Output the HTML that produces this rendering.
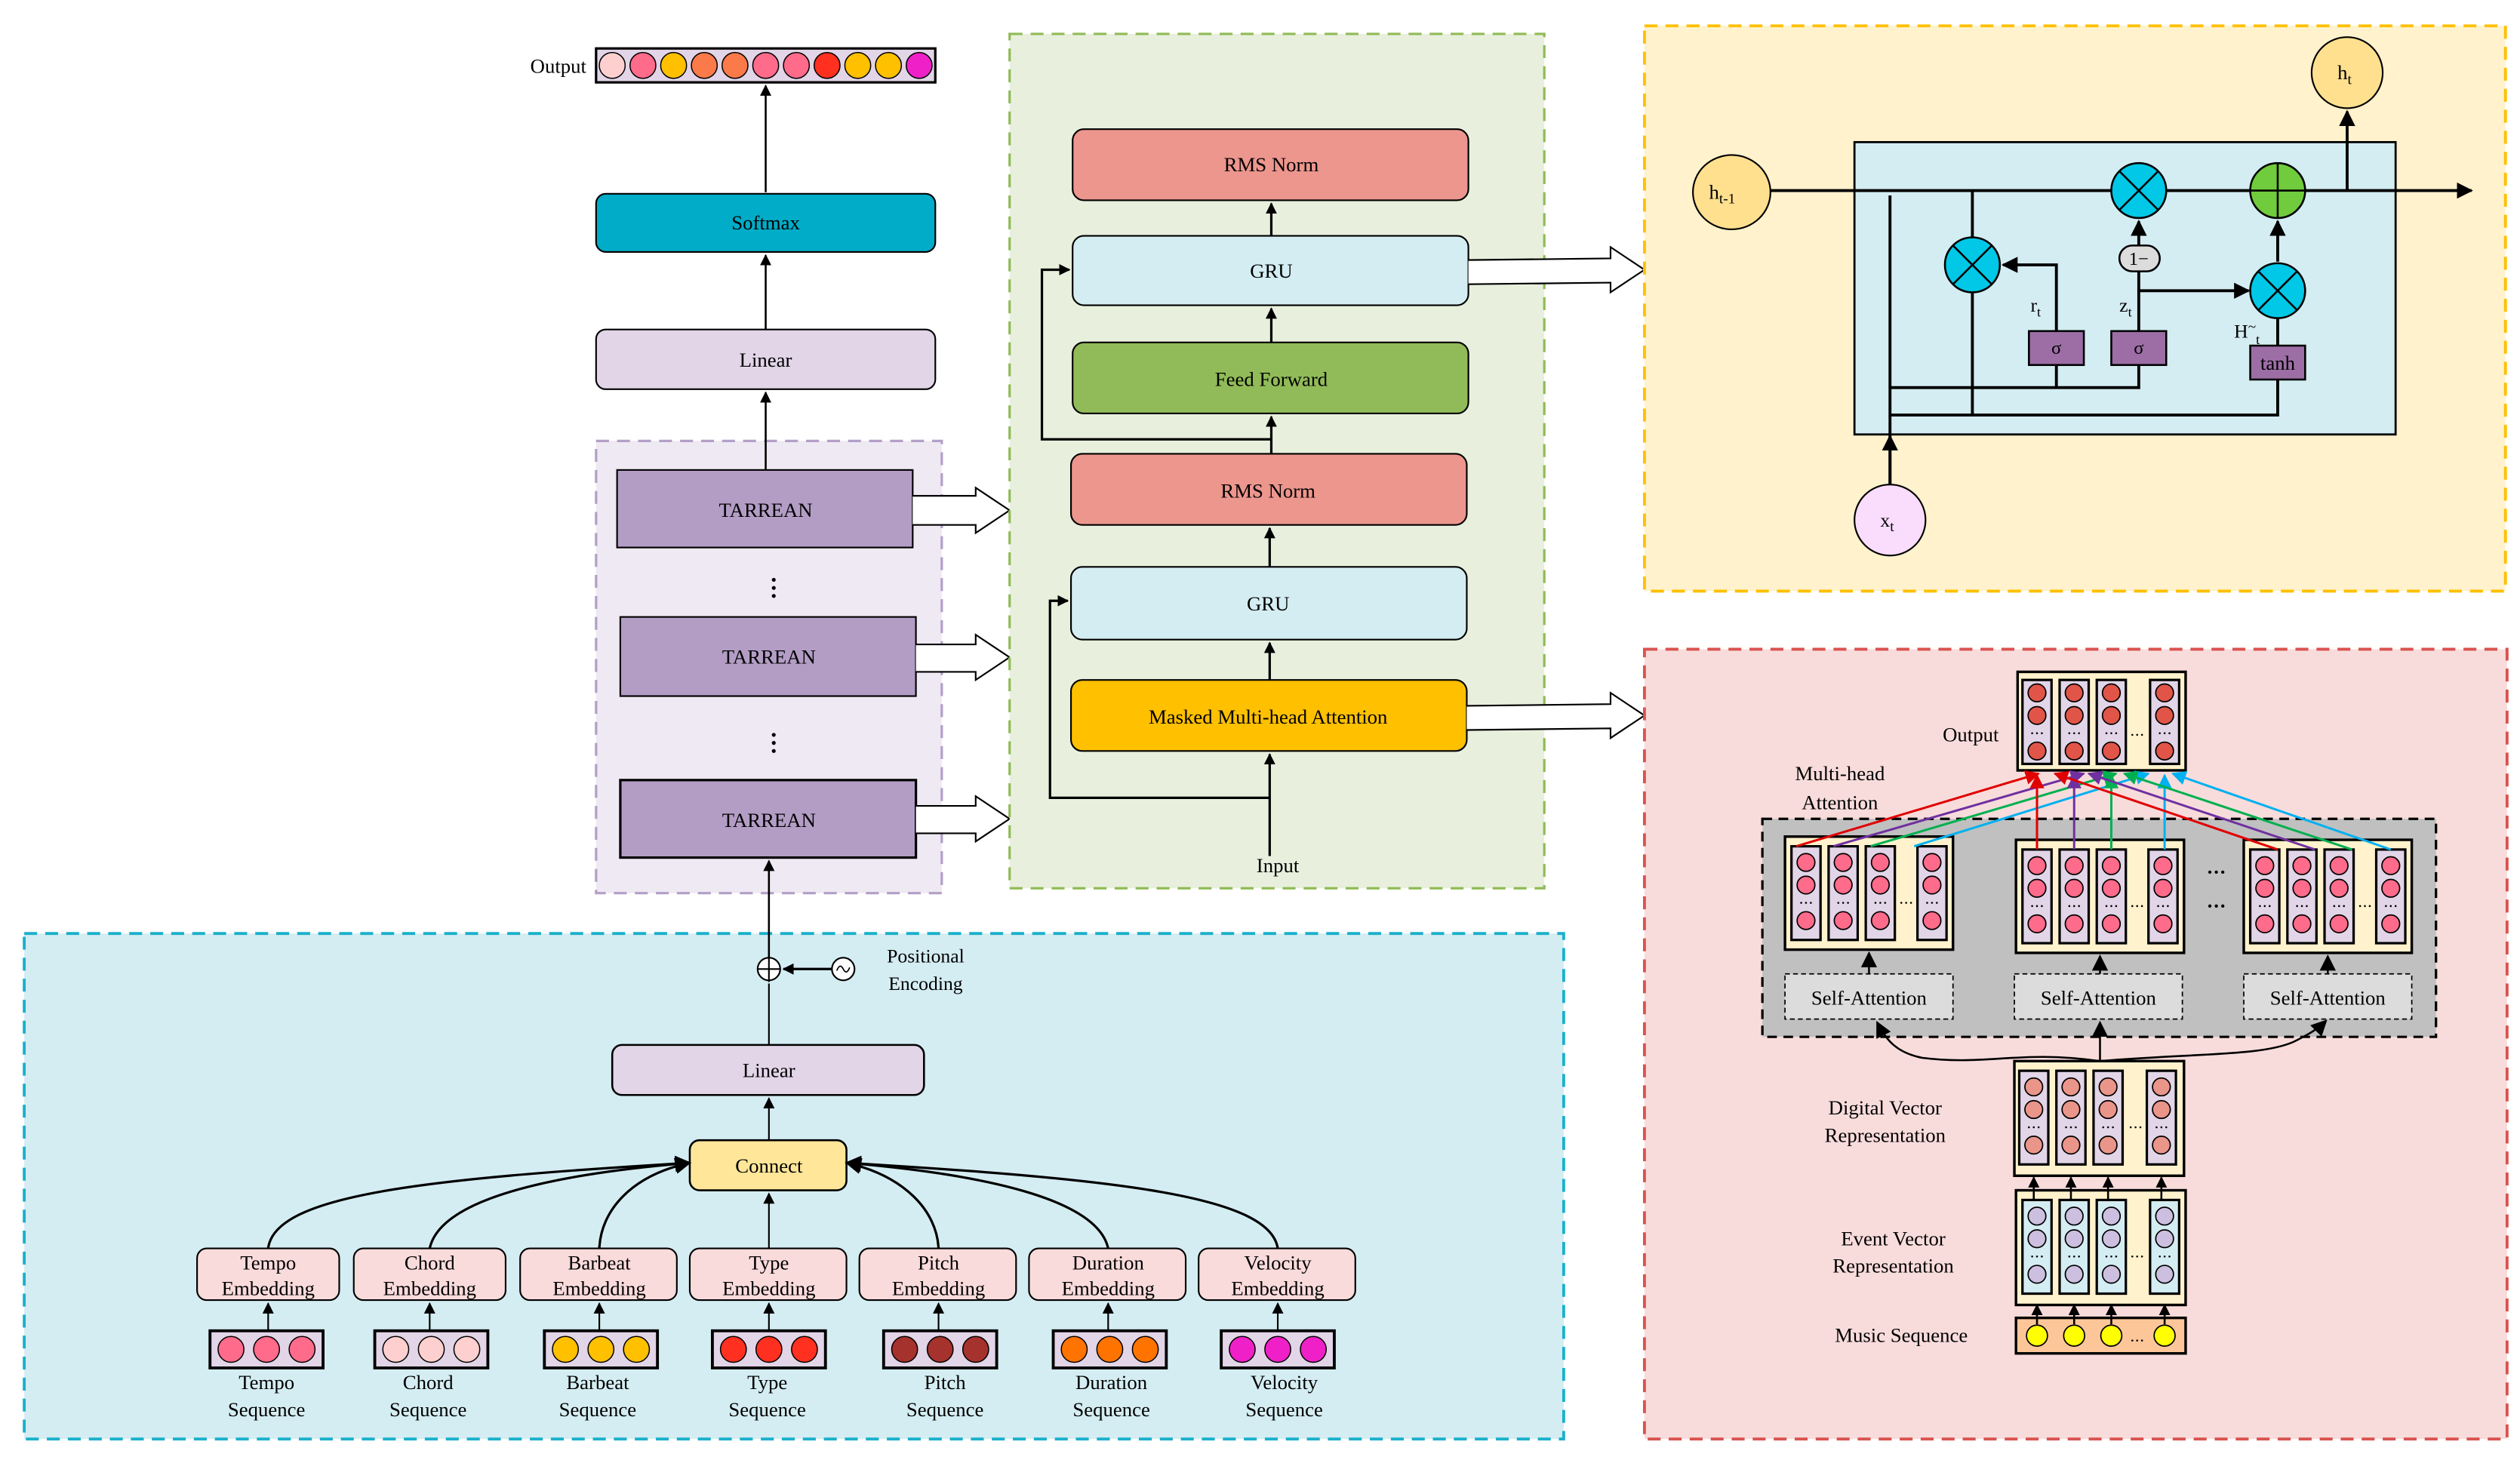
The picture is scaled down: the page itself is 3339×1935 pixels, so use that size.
<!DOCTYPE html>
<html><head><meta charset="utf-8"><style>html,body{margin:0;padding:0;background:#fff}svg{display:block}text{font-family:"Liberation Serif",serif;fill:#000}</style></head><body>
<svg width="3339" height="1935" viewBox="0 0 1560 904" preserveAspectRatio="none" xmlns="http://www.w3.org/2000/svg">
<defs>
<marker id="ar" viewBox="0 0 10 10" refX="9" refY="5" markerWidth="7" markerHeight="7" markerUnits="userSpaceOnUse" orient="auto"><path d="M0,0L10,5L0,10z" fill="#000"/></marker>
<marker id="arB" viewBox="0 0 10 10" refX="9" refY="5" markerWidth="10" markerHeight="10" markerUnits="userSpaceOnUse" orient="auto"><path d="M0,0L10,5L0,10z" fill="#000"/></marker>
<marker id="mr" viewBox="0 0 10 10" refX="9" refY="5" markerWidth="9" markerHeight="9" markerUnits="userSpaceOnUse" orient="auto"><path d="M0,0L10,5L0,10z" fill="#e00000"/></marker>
<marker id="mp" viewBox="0 0 10 10" refX="9" refY="5" markerWidth="9" markerHeight="9" markerUnits="userSpaceOnUse" orient="auto"><path d="M0,0L10,5L0,10z" fill="#7030a0"/></marker>
<marker id="mg" viewBox="0 0 10 10" refX="9" refY="5" markerWidth="9" markerHeight="9" markerUnits="userSpaceOnUse" orient="auto"><path d="M0,0L10,5L0,10z" fill="#00b050"/></marker>
<marker id="mb" viewBox="0 0 10 10" refX="9" refY="5" markerWidth="9" markerHeight="9" markerUnits="userSpaceOnUse" orient="auto"><path d="M0,0L10,5L0,10z" fill="#00b0f0"/></marker>
<g id="dots"><circle cx="-3" cy="0" r="0.6"/><circle cx="0" cy="0" r="0.6"/><circle cx="3" cy="0" r="0.6"/></g>
<g id="colP"><rect x="-9" y="0" width="18" height="58" fill="#e1d5e7" stroke="#000" stroke-width="1.5"/><circle cy="10" r="5.5" fill="#ff6b8a" stroke="#000" stroke-width="0.8"/><circle cy="24" r="5.5" fill="#ff6b8a" stroke="#000" stroke-width="0.8"/><use href="#dots" y="35"/><circle cy="46" r="5.5" fill="#ff6b8a" stroke="#000" stroke-width="0.8"/></g>
<g id="colR"><rect x="-9" y="0" width="18" height="52" fill="#e1d5e7" stroke="#000" stroke-width="1.5"/><circle cy="8" r="5.5" fill="#e05548" stroke="#000" stroke-width="0.8"/><circle cy="22" r="5.5" fill="#e05548" stroke="#000" stroke-width="0.8"/><use href="#dots" y="33"/><circle cy="44" r="5.5" fill="#e05548" stroke="#000" stroke-width="0.8"/></g>
<g id="colD"><rect x="-9" y="0" width="18" height="58" fill="#e1d5e7" stroke="#000" stroke-width="1.5"/><circle cy="10" r="5.5" fill="#ea958a" stroke="#000" stroke-width="0.8"/><circle cy="24" r="5.5" fill="#ea958a" stroke="#000" stroke-width="0.8"/><use href="#dots" y="35"/><circle cy="46" r="5.5" fill="#ea958a" stroke="#000" stroke-width="0.8"/></g>
<g id="colE"><rect x="-9" y="0" width="18" height="58" fill="#d4edf2" stroke="#000" stroke-width="1.5"/><circle cy="10" r="5.5" fill="#cdbfdf" stroke="#000" stroke-width="0.8"/><circle cy="24" r="5.5" fill="#cdbfdf" stroke="#000" stroke-width="0.8"/><use href="#dots" y="35"/><circle cy="46" r="5.5" fill="#cdbfdf" stroke="#000" stroke-width="0.8"/></g>
<g id="head"><rect x="0" y="0" width="104" height="70" fill="#fff2cc" stroke="#000" stroke-width="1.6"/><use href="#colP" x="13" y="6"/><use href="#colP" x="36" y="6"/><use href="#colP" x="59" y="6"/><use href="#colP" x="91" y="6"/><use href="#dots" x="75" y="41"/></g>
</defs>

<text x="363" y="45" font-size="12.5" text-anchor="end">Output</text>
<rect x="369" y="30" width="210" height="21" fill="#e1d5e7" stroke="#000" stroke-width="1.5"/>
<g stroke="#000" stroke-width="0.7">
<circle cx="379" cy="40.5" r="8" fill="#fdd0cf"/><circle cx="398" cy="40.5" r="8" fill="#ff6b8a"/><circle cx="417" cy="40.5" r="8" fill="#ffc000"/><circle cx="436" cy="40.5" r="8" fill="#fb7a4a"/><circle cx="455" cy="40.5" r="8" fill="#fb7a4a"/><circle cx="474" cy="40.5" r="8" fill="#ff6b8a"/><circle cx="493" cy="40.5" r="8" fill="#ff6b8a"/><circle cx="512" cy="40.5" r="8" fill="#ff3020"/><circle cx="531" cy="40.5" r="8" fill="#ffc000"/><circle cx="550" cy="40.5" r="8" fill="#ffc000"/><circle cx="569" cy="40.5" r="8" fill="#f020c8"/></g>
<line x1="474" y1="119" x2="474" y2="53" stroke="#000" stroke-width="1.2" marker-end="url(#ar)"/>
<rect x="369" y="120" width="210" height="36" rx="6" fill="#00acc8" stroke="#000" stroke-width="1"/>
<text x="474" y="142" font-size="12.5" text-anchor="middle">Softmax</text>
<line x1="474" y1="204" x2="474" y2="158" stroke="#000" stroke-width="1.2" marker-end="url(#ar)"/>
<rect x="369" y="204" width="210" height="37" rx="6" fill="#e1d5e7" stroke="#000" stroke-width="1"/>
<text x="474" y="227" font-size="12.5" text-anchor="middle">Linear</text>
<rect x="369" y="273" width="214" height="280" fill="#eee9f2" stroke="#b39fc8" stroke-width="1.5" stroke-dasharray="8,5"/>
<line x1="474" y1="291" x2="474" y2="243" stroke="#000" stroke-width="1.2" marker-end="url(#ar)"/>
<rect x="382" y="291" width="183" height="48" fill="#b39dc5" stroke="#000" stroke-width="1"/>
<text x="474" y="320" font-size="12.5" text-anchor="middle">TARREAN</text>
<rect x="384" y="382" width="183" height="49" fill="#b39dc5" stroke="#000" stroke-width="1"/>
<text x="476" y="411" font-size="12.5" text-anchor="middle">TARREAN</text>
<rect x="384" y="483" width="183" height="48" fill="#b39dc5" stroke="#000" stroke-width="1.5"/>
<text x="476" y="512" font-size="12.5" text-anchor="middle">TARREAN</text>
<g fill="#000"><circle cx="479" cy="359" r="1.2"/><circle cx="479" cy="364" r="1.2"/><circle cx="479" cy="369" r="1.2"/><circle cx="479" cy="455" r="1.2"/><circle cx="479" cy="460" r="1.2"/><circle cx="479" cy="465" r="1.2"/></g>
<g fill="#fff" stroke="#000" stroke-width="1">
<path d="M565,307L604,307L604,302L625,316L604,330L604,325L565,325"/>
<path d="M567,399L604,399L604,393L625,407L604,421L604,416L567,416"/>
<path d="M567,499L604,499L604,493L625,507L604,521L604,516L567,516"/>
</g>

<rect x="15" y="578" width="953" height="313" fill="#d4edf2" stroke="#1ab0cc" stroke-width="1.8" stroke-dasharray="8,5"/>
<line x1="476" y1="608" x2="476" y2="533" stroke="#000" stroke-width="1.2" marker-end="url(#ar)"/>
<circle cx="476" cy="600" r="7" fill="#fff" stroke="#000" stroke-width="1"/>
<line x1="469" y1="600" x2="483" y2="600" stroke="#000" stroke-width="1"/>
<line x1="476" y1="593" x2="476" y2="607" stroke="#000" stroke-width="1"/>
<circle cx="522" cy="600" r="7" fill="#fff" stroke="#000" stroke-width="1"/>
<path d="M518,601q2,-5 4,-1t4,-1" fill="none" stroke="#000" stroke-width="0.8"/>
<line x1="515" y1="600" x2="485" y2="600" stroke="#000" stroke-width="1.5" marker-end="url(#ar)"/>
<text x="573" y="596" font-size="12" text-anchor="middle">Positional</text>
<text x="573" y="613" font-size="12" text-anchor="middle">Encoding</text>
<line x1="476" y1="647" x2="476" y2="609" stroke="#000" stroke-width="1"/>
<rect x="379" y="647" width="193" height="31" rx="6" fill="#e1d5e7" stroke="#000" stroke-width="1.2"/>
<text x="476" y="667" font-size="12.5" text-anchor="middle">Linear</text>
<line x1="476" y1="706" x2="476" y2="680" stroke="#000" stroke-width="1" marker-end="url(#ar)"/>
<rect x="427" y="706" width="97" height="31" rx="6" fill="#ffe699" stroke="#000" stroke-width="1.2"/>
<text x="476" y="726" font-size="12.5" text-anchor="middle">Connect</text>
<g fill="none" stroke="#000" stroke-width="1.5">
<path d="M166,773C170,740 260,730 427,720" marker-end="url(#arB)"/>
<path d="M266,773C272,745 330,728 427,720" marker-end="url(#arB)"/>
<path d="M371,773C372,750 390,728 427,720" marker-end="url(#arB)"/>
<path d="M581,773C580,750 560,728 524,720" marker-end="url(#arB)"/>
<path d="M686,773C680,745 620,728 524,720" marker-end="url(#arB)"/>
<path d="M791,773C786,740 690,730 524,720" marker-end="url(#arB)"/>
</g>
<line x1="476" y1="773" x2="476" y2="739" stroke="#000" stroke-width="1" marker-end="url(#ar)"/>
<g font-size="12.5" text-anchor="middle">
<rect x="122" y="773" width="88" height="32" rx="6" fill="#fadbdb" stroke="#000"/><text x="166" y="786">Tempo</text><text x="166" y="802">Embedding</text>
<rect x="219" y="773" width="94" height="32" rx="6" fill="#fadbdb" stroke="#000"/><text x="266" y="786">Chord</text><text x="266" y="802">Embedding</text>
<rect x="322" y="773" width="97" height="32" rx="6" fill="#fadbdb" stroke="#000"/><text x="371" y="786">Barbeat</text><text x="371" y="802">Embedding</text>
<rect x="427" y="773" width="97" height="32" rx="6" fill="#fadbdb" stroke="#000"/><text x="476" y="786">Type</text><text x="476" y="802">Embedding</text>
<rect x="532" y="773" width="97" height="32" rx="6" fill="#fadbdb" stroke="#000"/><text x="581" y="786">Pitch</text><text x="581" y="802">Embedding</text>
<rect x="637" y="773" width="97" height="32" rx="6" fill="#fadbdb" stroke="#000"/><text x="686" y="786">Duration</text><text x="686" y="802">Embedding</text>
<rect x="742" y="773" width="97" height="32" rx="6" fill="#fadbdb" stroke="#000"/><text x="791" y="786">Velocity</text><text x="791" y="802">Embedding</text>
</g>
<g stroke="#000" stroke-width="1">
<line x1="166" y1="824" x2="166" y2="807" marker-end="url(#ar)"/><line x1="266" y1="824" x2="266" y2="807" marker-end="url(#ar)"/><line x1="371" y1="824" x2="371" y2="807" marker-end="url(#ar)"/><line x1="476" y1="824" x2="476" y2="807" marker-end="url(#ar)"/><line x1="581" y1="824" x2="581" y2="807" marker-end="url(#ar)"/><line x1="686" y1="824" x2="686" y2="807" marker-end="url(#ar)"/><line x1="791" y1="824" x2="791" y2="807" marker-end="url(#ar)"/>
</g>
<g stroke="#000" stroke-width="1.8" fill="#e1d5e7">
<rect x="130" y="824" width="70" height="23"/><rect x="232" y="824" width="70" height="23"/><rect x="337" y="824" width="70" height="23"/><rect x="441" y="824" width="70" height="23"/><rect x="547" y="824" width="70" height="23"/><rect x="652" y="824" width="70" height="23"/><rect x="756" y="824" width="70" height="23"/>
</g>
<g stroke="#000" stroke-width="0.7">
<circle cx="143" cy="835.5" r="8" fill="#ff6b8a"/><circle cx="165" cy="835.5" r="8" fill="#ff6b8a"/><circle cx="187" cy="835.5" r="8" fill="#ff6b8a"/>
<circle cx="245" cy="835.5" r="8" fill="#fdd0cf"/><circle cx="267" cy="835.5" r="8" fill="#fdd0cf"/><circle cx="289" cy="835.5" r="8" fill="#fdd0cf"/>
<circle cx="350" cy="835.5" r="8" fill="#ffc000"/><circle cx="372" cy="835.5" r="8" fill="#ffc000"/><circle cx="394" cy="835.5" r="8" fill="#ffc000"/>
<circle cx="454" cy="835.5" r="8" fill="#ff3020"/><circle cx="476" cy="835.5" r="8" fill="#ff3020"/><circle cx="498" cy="835.5" r="8" fill="#ff3020"/>
<circle cx="560" cy="835.5" r="8" fill="#a5322c"/><circle cx="582" cy="835.5" r="8" fill="#a5322c"/><circle cx="604" cy="835.5" r="8" fill="#a5322c"/>
<circle cx="665" cy="835.5" r="8" fill="#ff7300"/><circle cx="687" cy="835.5" r="8" fill="#ff7300"/><circle cx="709" cy="835.5" r="8" fill="#ff7300"/>
<circle cx="769" cy="835.5" r="8" fill="#f020c8"/><circle cx="791" cy="835.5" r="8" fill="#f020c8"/><circle cx="813" cy="835.5" r="8" fill="#f020c8"/>
</g>
<g font-size="12.5" text-anchor="middle">
<text x="165" y="860">Tempo</text><text x="165" y="877">Sequence</text>
<text x="265" y="860">Chord</text><text x="265" y="877">Sequence</text>
<text x="370" y="860">Barbeat</text><text x="370" y="877">Sequence</text>
<text x="475" y="860">Type</text><text x="475" y="877">Sequence</text>
<text x="585" y="860">Pitch</text><text x="585" y="877">Sequence</text>
<text x="688" y="860">Duration</text><text x="688" y="877">Sequence</text>
<text x="795" y="860">Velocity</text><text x="795" y="877">Sequence</text>
</g>

<rect x="625" y="21" width="331" height="529" fill="#e8f0dd" stroke="#90bb56" stroke-width="1.5" stroke-dasharray="8,5"/>
<g stroke="#000" stroke-width="1" font-size="12.5">
<rect x="664" y="80" width="245" height="44" rx="7" fill="#ec968e"/>
<rect x="664" y="146" width="245" height="43" rx="7" fill="#d4edf2"/>
<rect x="664" y="212" width="245" height="44" rx="7" fill="#91bb58"/>
<rect x="663" y="281" width="245" height="44" rx="7" fill="#ec968e"/>
<rect x="663" y="351" width="245" height="45" rx="7" fill="#d4edf2"/>
<rect x="663" y="421" width="245" height="44" rx="7" fill="#ffc000"/>
</g>
<g font-size="12.5" text-anchor="middle">
<text x="787" y="106">RMS Norm</text><text x="787" y="172">GRU</text><text x="787" y="239">Feed Forward</text><text x="785" y="308">RMS Norm</text><text x="785" y="378">GRU</text><text x="785" y="448">Masked Multi-head Attention</text><text x="791" y="540">Input</text>
</g>
<g stroke="#000" stroke-width="1.5" fill="none">
<line x1="787" y1="146" x2="787" y2="126" marker-end="url(#ar)"/>
<line x1="787" y1="212" x2="787" y2="191" marker-end="url(#ar)"/>
<line x1="787" y1="281" x2="787" y2="258" marker-end="url(#ar)"/>
<line x1="786" y1="351" x2="786" y2="327" marker-end="url(#ar)"/>
<line x1="786" y1="421" x2="786" y2="398" marker-end="url(#ar)"/>
<line x1="786" y1="530" x2="786" y2="467" marker-end="url(#ar)"/>
<path d="M787,272L645,272L645,167L662,167" marker-end="url(#ar)"/>
<path d="M786,494L650,494L650,372L661,372" marker-end="url(#ar)"/>
</g>
<g fill="#fff" stroke="#000" stroke-width="1">
<path d="M909,161L997,160L997,153L1018,167L997,181L997,175L909,176"/>
<path d="M908,437L997,436L997,429L1018,443L997,457L997,451L908,452"/>
</g>

<rect x="1018" y="16" width="533" height="350" fill="#fff2cc" stroke="#ffc000" stroke-width="1.8" stroke-dasharray="8,5"/>
<rect x="1148" y="88" width="335" height="181" fill="#d4edf2" stroke="#000" stroke-width="1.3"/>
<g stroke="#000" stroke-width="1.8" fill="none">
<line x1="1096" y1="118" x2="1530" y2="118" marker-end="url(#arB)"/>
<line x1="1170" y1="300" x2="1170" y2="121" />
<line x1="1221" y1="118" x2="1221" y2="257"/>
<path d="M1170,240L1324,240L1324,226"/>
<line x1="1273" y1="240" x2="1273" y2="226"/>
<path d="M1170,257L1410,257L1410,235"/>
<path d="M1273,205L1273,164L1240,164" marker-end="url(#arB)"/>
<line x1="1324" y1="205" x2="1324" y2="137" marker-end="url(#arB)"/>
<line x1="1324" y1="180" x2="1392" y2="180" marker-end="url(#arB)"/>
<line x1="1410" y1="214" x2="1410" y2="197"/>
<line x1="1410" y1="162" x2="1410" y2="137" marker-end="url(#arB)"/>
<line x1="1453" y1="118" x2="1453" y2="69" marker-end="url(#arB)"/>
</g>
<line x1="1170" y1="300" x2="1170" y2="270" stroke="#000" stroke-width="1.8" marker-end="url(#arB)"/>
<ellipse cx="1072" cy="119" rx="24" ry="23" fill="#ffe08f" stroke="#000" stroke-width="1"/>
<text x="1058" y="123" font-size="12.5">h<tspan font-size="9" dy="3">t-1</tspan></text>
<ellipse cx="1453" cy="45" rx="22" ry="22" fill="#ffe08f" stroke="#000" stroke-width="1"/>
<text x="1447" y="49" font-size="12.5">h<tspan font-size="9" dy="3">t</tspan></text>
<ellipse cx="1170" cy="322" rx="22" ry="22" fill="#fadcfc" stroke="#000" stroke-width="1"/>
<text x="1164" y="326" font-size="12">x<tspan font-size="9" dy="3">t</tspan></text>
<g stroke="#000" stroke-width="1.2">
<ellipse cx="1221" cy="164" rx="17" ry="17" fill="#00c8e6"/><path d="M1209,152L1233,176M1233,152L1209,176"/>
<ellipse cx="1324" cy="118" rx="17" ry="17" fill="#00c8e6"/><path d="M1312,106L1336,130M1336,106L1312,130"/>
<ellipse cx="1410" cy="180" rx="17" ry="17" fill="#00c8e6"/><path d="M1398,168L1422,192M1422,168L1398,192"/>
<ellipse cx="1410" cy="118" rx="17" ry="17" fill="#70cc3c"/><path d="M1393,118L1427,118M1410,101L1410,135"/>
<rect x="1312" y="152" width="25" height="16" rx="8" fill="#dcdcdc"/>
<rect x="1256" y="205" width="34" height="21" fill="#9d6ea5"/>
<rect x="1307" y="205" width="34" height="21" fill="#9d6ea5"/>
<rect x="1393" y="214" width="34" height="21" fill="#9d6ea5"/>
</g>
<g font-size="11.5" text-anchor="middle">
<text x="1324" y="164">1−</text><text x="1273" y="219">σ</text><text x="1324" y="219">σ</text><text x="1410" y="229" font-size="12.5">tanh</text>
</g>
<text x="1257" y="193" font-size="12">r<tspan font-size="8.5" dy="3">t</tspan></text>
<text x="1312" y="193" font-size="12">z<tspan font-size="8.5" dy="3">t</tspan></text>
<text x="1383" y="209" font-size="12">H<tspan dy="-4" font-size="9">~</tspan><tspan font-size="8.5" dy="8">t</tspan></text>

<rect x="1018" y="402" width="534" height="489" fill="#f8dcdb" stroke="#d9534f" stroke-width="1.8" stroke-dasharray="8,5"/>
<rect x="1091" y="507" width="417" height="135" fill="#c0c0c0" stroke="#000" stroke-width="1.5" stroke-dasharray="6,4"/>
<use href="#head" x="1105" y="518"/>
<use href="#head" x="1248" y="520"/>
<use href="#head" x="1389" y="520"/>
<g fill="#000"><circle cx="1368" cy="540" r="1"/><circle cx="1372" cy="540" r="1"/><circle cx="1376" cy="540" r="1"/><circle cx="1368" cy="561" r="1"/><circle cx="1372" cy="561" r="1"/><circle cx="1376" cy="561" r="1"/></g>
<g fill="#dcdcdc" stroke="#000" stroke-width="0.8" stroke-dasharray="3,2">
<rect x="1105" y="603" width="104" height="28"/><rect x="1247" y="603" width="104" height="28"/><rect x="1389" y="603" width="104" height="28"/>
</g>
<g font-size="12.5" text-anchor="middle"><text x="1157" y="622">Self-Attention</text><text x="1299" y="622">Self-Attention</text><text x="1441" y="622">Self-Attention</text></g>
<g stroke="#000" stroke-width="1.2">
<line x1="1157" y1="603" x2="1157" y2="590" marker-end="url(#arB)"/>
<line x1="1300" y1="603" x2="1300" y2="592" marker-end="url(#arB)"/>
<line x1="1441" y1="603" x2="1441" y2="592" marker-end="url(#arB)"/>
<line x1="1300" y1="657" x2="1300" y2="633" marker-end="url(#arB)"/>
<path d="M1300,657C1250,650 1230,660 1190,655C1175,652 1168,645 1162,633" fill="none" marker-end="url(#arB)"/>
<path d="M1300,657C1360,652 1400,654 1420,645C1430,640 1435,637 1440,632" fill="none" marker-end="url(#arB)"/>
</g>
<rect x="1249" y="416" width="104" height="61" fill="#fff2cc" stroke="#000" stroke-width="1.6"/>
<use href="#colR" x="1261" y="421"/><use href="#colR" x="1284" y="421"/><use href="#colR" x="1307" y="421"/><use href="#colR" x="1340" y="421"/><use href="#dots" x="1323" y="455"/>
<text x="1220" y="459" font-size="12.5" text-anchor="middle">Output</text>
<text x="1139" y="483" font-size="12.5" text-anchor="middle">Multi-head</text>
<text x="1139" y="501" font-size="12.5" text-anchor="middle">Attention</text>
<g stroke-width="1.4" fill="none">
<line x1="1112" y1="524" x2="1262" y2="479" stroke="#e00000" marker-end="url(#mr)"/>
<line x1="1135" y1="524" x2="1290" y2="479" stroke="#7030a0" marker-end="url(#mp)"/>
<line x1="1158" y1="524" x2="1310" y2="479" stroke="#00b050" marker-end="url(#mg)"/>
<line x1="1185" y1="524" x2="1330" y2="479" stroke="#00b0f0" marker-end="url(#mb)"/>
<line x1="1261" y1="526" x2="1261" y2="480" stroke="#e00000" marker-end="url(#mr)"/>
<line x1="1284" y1="526" x2="1284" y2="480" stroke="#7030a0" marker-end="url(#mp)"/>
<line x1="1307" y1="526" x2="1307" y2="480" stroke="#00b050" marker-end="url(#mg)"/>
<line x1="1340" y1="526" x2="1340" y2="480" stroke="#00b0f0" marker-end="url(#mb)"/>
<line x1="1410" y1="526" x2="1272" y2="479" stroke="#e00000" marker-end="url(#mr)"/>
<line x1="1433" y1="526" x2="1293" y2="479" stroke="#7030a0" marker-end="url(#mp)"/>
<line x1="1456" y1="526" x2="1315" y2="479" stroke="#00b050" marker-end="url(#mg)"/>
<line x1="1480" y1="526" x2="1345" y2="479" stroke="#00b0f0" marker-end="url(#mb)"/>
</g>
<rect x="1247" y="657" width="105" height="71" fill="#fff2cc" stroke="#000" stroke-width="1.6"/>
<use href="#colD" x="1259" y="663"/><use href="#colD" x="1282" y="663"/><use href="#colD" x="1305" y="663"/><use href="#colD" x="1338" y="663"/><use href="#dots" x="1322" y="698"/>
<rect x="1248" y="737" width="105" height="71" fill="#fff2cc" stroke="#000" stroke-width="1.6"/>
<use href="#colE" x="1261" y="743"/><use href="#colE" x="1284" y="743"/><use href="#colE" x="1307" y="743"/><use href="#colE" x="1340" y="743"/><use href="#dots" x="1323" y="778"/>
<rect x="1248" y="816" width="105" height="22" fill="#fdc699" stroke="#000" stroke-width="1.6"/>
<g stroke="#000" stroke-width="0.8" fill="#ffff00"><circle cx="1261" cy="827" r="6.5"/><circle cx="1284" cy="827" r="6.5"/><circle cx="1307" cy="827" r="6.5"/><circle cx="1340" cy="827" r="6.5"/></g>
<use href="#dots" x="1323" y="830"/>
<g stroke="#000" stroke-width="1.2">
<line x1="1259" y1="743" x2="1259" y2="729" marker-end="url(#ar)"/><line x1="1282" y1="743" x2="1282" y2="729" marker-end="url(#ar)"/><line x1="1305" y1="743" x2="1305" y2="729" marker-end="url(#ar)"/><line x1="1338" y1="743" x2="1338" y2="729" marker-end="url(#ar)"/>
<line x1="1261" y1="820" x2="1261" y2="808" marker-end="url(#ar)"/><line x1="1284" y1="820" x2="1284" y2="808" marker-end="url(#ar)"/><line x1="1307" y1="820" x2="1307" y2="808" marker-end="url(#ar)"/><line x1="1340" y1="820" x2="1340" y2="808" marker-end="url(#ar)"/>
</g>
<g font-size="12.5" text-anchor="middle">
<text x="1167" y="690">Digital Vector</text><text x="1167" y="707">Representation</text>
<text x="1172" y="771">Event Vector</text><text x="1172" y="788">Representation</text>
<text x="1177" y="831">Music Sequence</text>
</g>
</svg>
</body></html>
